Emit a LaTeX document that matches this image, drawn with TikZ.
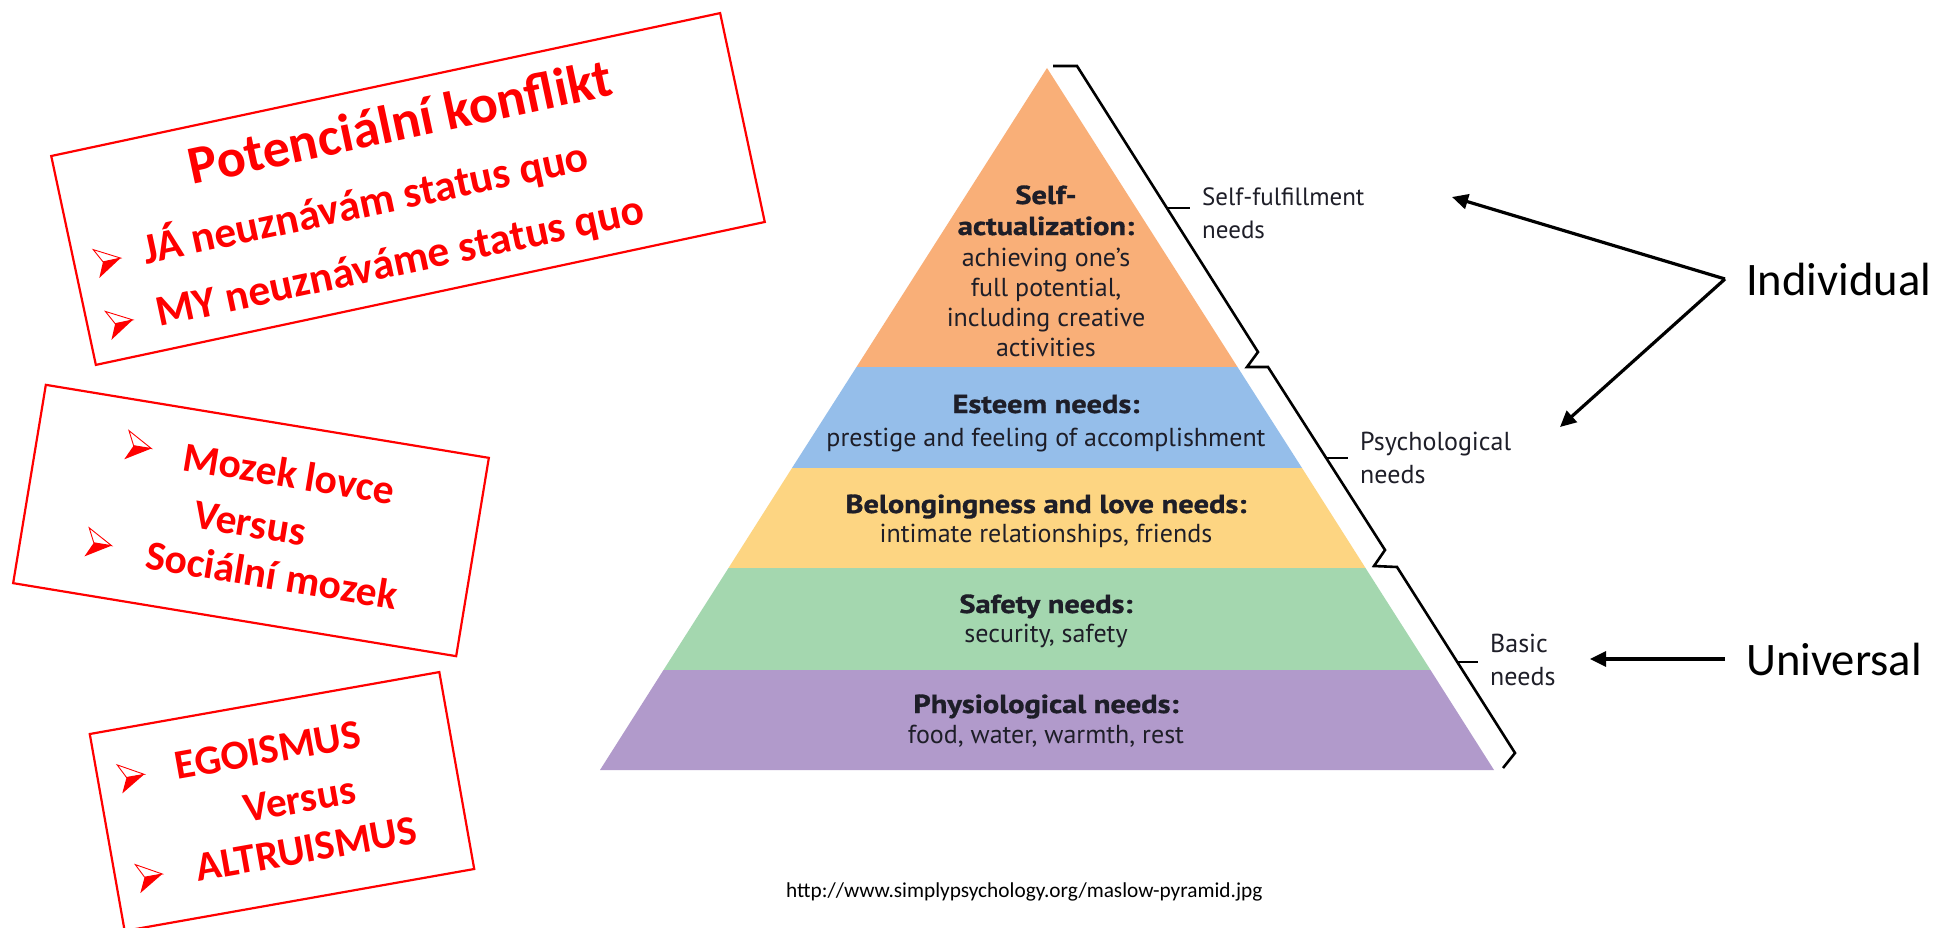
\documentclass[tikz,border=0pt]{standalone}
\usepackage{fontspec}
\setmainfont{Carlito}
\newfontfamily\pyr{PT Sans}
\newfontfamily\pyrb[FakeStretch=1.17,FakeBold=1.2]{PT Sans}
\usetikzlibrary{arrows.meta}
\definecolor{orng}{HTML}{F9AF78}
\definecolor{blu}{HTML}{95BEEA}
\definecolor{ylw}{HTML}{FDD582}
\definecolor{grn}{HTML}{A4D7AF}
\definecolor{prp}{HTML}{B19ACB}
\definecolor{pyrtxt}{HTML}{1E1E28}
\tikzset{
  redbox/.style={draw=red, line width=2.2pt, inner sep=0pt, outer sep=0pt},
  redtxt/.style={text=red, inner sep=0pt, anchor=base west, font=\fontsize{43.5}{43.5}\selectfont\bfseries},
  boxtxt/.style={text=red, inner sep=0pt, anchor=base west, font=\fontsize{41.5}{41.5}\selectfont\bfseries},
  arrowbullet/.pic={
    \filldraw[draw=red, fill=white, line width=0.9pt, line join=miter] (-12.5,-14.5) -- (12.5,-0.5) -- (-5.5,-0.5) -- cycle;
    \fill[red] (-5.5,-0.5) -- (12.5,-0.5) -- (-12.5,14.5) -- cycle;
  },
  brk/.style={draw=black, line width=2.6pt, line join=miter},
  pyrreg/.style={text=pyrtxt, inner sep=0pt, anchor=base, font=\pyr\fontsize{26}{26}\selectfont},
  pyrbold/.style={text=pyrtxt, inner sep=0pt, anchor=base, font=\pyrb\bfseries\fontsize{26}{26}\selectfont},
  sidelbl/.style={text=pyrtxt, inner sep=0pt, anchor=base west, align=left, font=\pyr\fontsize{26}{33}\selectfont},
  arr/.style={draw=black, line width=3.2pt, -{Triangle[length=16pt,width=15pt]}},
  biglbl/.style={inner sep=0pt, anchor=base west, font=\fontsize{46.6}{46.6}\selectfont}
}
\begin{document}
\begin{tikzpicture}[x=1pt,y=-1pt]
\useasboundingbox (0,0) rectangle (1937,928);
\fill[white] (0,0) rectangle (1937,928);

% ---------- Box 1 ----------
\begin{scope}[shift={(408,189)}, rotate=12.06, transform shape]
  \node[redbox, minimum width=684pt, minimum height=213.6pt] (box1) at (0,0) {};
  \node[redtxt, anchor=base, font=\fontsize{54}{54}\selectfont\bfseries] (title1) at (6,-49) {Potenciální konflikt};
  \pic (b11) at (-308,8) {arrowbullet};
  \node[redtxt] (l11) at (-272,19) {JÁ neuznávám status quo};
  \pic (b12) at (-309,71) {arrowbullet};
  \node[redtxt] (l12) at (-272,83) {MY neuznáváme status quo};
\end{scope}

% ---------- Box 2 ----------
\begin{scope}[shift={(251,520.5)}, rotate=-9.36, transform shape]
  \node[redbox, minimum width=449pt, minimum height=201pt] (box2) at (0,0) {};
  \pic (b21) at (-122.5,-54.3) {arrowbullet};
  \node[boxtxt] (l21) at (-77,-38.5) {Mozek lovce};
  \node[boxtxt] (l22) at (-57,16.7) {Versus};
  \pic (b22) at (-146,48) {arrowbullet};
  \node[boxtxt] (l23) at (-98,64.6) {Sociální mozek};
\end{scope}

% ---------- Box 3 ----------
\begin{scope}[shift={(282,801.5)}, rotate=10.05, transform shape]
  \node[redbox, minimum width=355pt, minimum height=200pt] (box3) at (0,0) {};
  \pic (b31) at (-143.4,-50.3) {arrowbullet};
  \node[boxtxt] (l31) at (-99,-39.5) {EGOISMUS};
  \node[boxtxt] (l32) at (-39,14.6) {Versus};
  \pic (b32) at (-143,51) {arrowbullet};
  \node[boxtxt] (l33) at (-96,64.4) {ALTRUISMUS};
\end{scope}

% ---------- Pyramid ----------
\fill[orng] (1047,68) -- (1237.5,367) -- (856.5,367) -- cycle;
\fill[blu] (856.5,367) -- (1237.5,367) -- (1302,468) -- (792,468) -- cycle;
\fill[ylw] (792,468) -- (1302,468) -- (1365.5,568) -- (728.5,568) -- cycle;
\fill[grn] (728.5,568) -- (1365.5,568) -- (1430.5,670) -- (663.5,670) -- cycle;
\fill[prp] (663.5,670) -- (1430.5,670) -- (1494,770) -- (600,770) -- cycle;

\node[pyrbold] (sa1) at (1046,204) {Self-};
\node[pyrbold] (sa2) at (1046,235) {actualization:};
\node[pyrreg] (sa3) at (1046,266) {achieving one’s};
\node[pyrreg] (sa4) at (1046,296) {full potential,};
\node[pyrreg] (sa5) at (1046,326) {including creative};
\node[pyrreg] (sa6) at (1046,356) {activities};
\node[pyrbold] (es1) at (1046,413) {Esteem needs:};
\node[pyrreg] (es2) at (1046,446) {prestige and feeling of accomplishment};
\node[pyrbold] (be1) at (1046,513) {Belongingness and love needs:};
\node[pyrreg] (be2) at (1046,542) {intimate relationships, friends};
\node[pyrbold] (sf1) at (1046,613) {Safety needs:};
\node[pyrreg] (sf2) at (1046,642) {security, safety};
\node[pyrbold] (ph1) at (1046,713) {Physiological needs:};
\node[pyrreg] (ph2) at (1046,743) {food, water, warmth, rest};

% brackets
\draw[brk] (1053,66) -- (1077,66) -- (1258,352) -- (1247,367) -- (1268,367)
  -- (1385,550) -- (1374,566) -- (1397,567) -- (1515,753) -- (1503,768);
\draw[brk] (1167,208) -- (1190,208);
\draw[brk] (1327,458) -- (1348,458);
\draw[brk] (1457,662) -- (1478,662);

% side labels (anchor = baseline of the last line)
\node[sidelbl, font=\pyr\fontsize{25}{33}\selectfont] (sfn) at (1202,238) {Self-fulfillment\\needs};
\node[sidelbl] (psn) at (1360,483) {Psychological\\needs};
\node[sidelbl] (bsn) at (1490,685) {Basic\\needs};

% ---------- Individual / Universal ----------
\node[biglbl] (ind) at (1746,295) {Individual};
\node[biglbl] (uni) at (1746,675) {Universal};
\coordinate (ta) at (1452,197);
\coordinate (tb) at (1560,427);
\coordinate (iv) at ([xshift=-21pt]ind.west);
\draw[arr] (iv) -- (ta);
\draw[arr] (iv) -- (tb);
\draw[arr] ([xshift=-21pt]uni.west) -- ([xshift=-156pt]uni.west);

% caption
\node[inner sep=0pt, anchor=base west, font=\fontsize{21.3}{21.3}\selectfont] (src) at (786,897) {http://www.simplypsychology.org/maslow-pyramid.jpg};
\end{tikzpicture}
\end{document}
